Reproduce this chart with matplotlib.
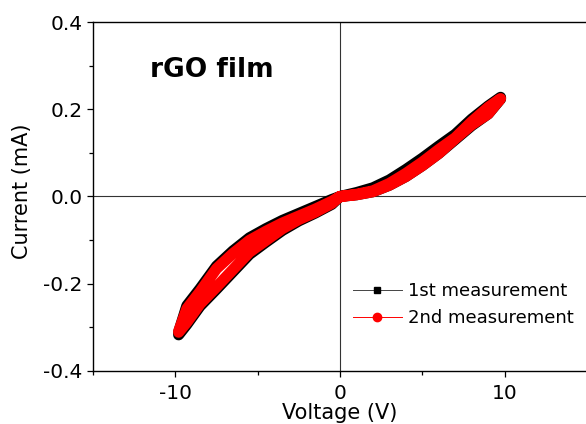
import matplotlib
matplotlib.use("Agg")
import matplotlib.pyplot as plt
from matplotlib.lines import Line2D

plt.rcParams['font.family'] = ['DejaVu Sans']

# ---- data ----
v_pos = [0, 1, 2, 3, 4, 5, 6, 7, 8, 9, 9.75]
v_neg = [0, -0.5, -1.5, -2.5, -3.5, -4.5, -5.5, -6.5, -7.5, -8.5, -9.3, -9.8]

# 1st measurement (black)
m1_pos_up = [0, 0.009, 0.020, 0.038, 0.062, 0.088, 0.116, 0.143, 0.178, 0.208, 0.228]
m1_pos_down = [0, 0.004, 0.011, 0.026, 0.046, 0.071, 0.099, 0.131, 0.163, 0.190, 0.224]
m1_neg_upper = [0, -0.007, -0.023, -0.039, -0.055, -0.074, -0.095, -0.125, -0.160, -0.212, -0.251, -0.312]
m1_neg_lower = [0, -0.018, -0.038, -0.056, -0.078, -0.105, -0.133, -0.173, -0.213, -0.252, -0.294, -0.318]

# 2nd measurement (red)
m2_pos_up = [0, 0.005, 0.013, 0.030, 0.053, 0.079, 0.108, 0.135, 0.172, 0.205, 0.225]
m2_pos_down = [0, 0.004, 0.011, 0.026, 0.046, 0.071, 0.099, 0.133, 0.165, 0.190, 0.225]
m2_neg_upper = [0, -0.011, -0.029, -0.045, -0.061, -0.080, -0.101, -0.131, -0.166, -0.219, -0.258, -0.310]
m2_neg_lower = [0, -0.016, -0.036, -0.053, -0.074, -0.101, -0.128, -0.168, -0.208, -0.247, -0.289, -0.312]

labels = ["1st measurement", "2nd measurement"]
x_ticks = [-10, 0, 10]
y_ticks = [-0.4, -0.2, 0.0, 0.2, 0.4]


def sweep(pos_up, pos_down, neg_upper, neg_lower):
    v = list(v_pos) + list(v_pos[::-1]) + list(v_neg) + list(v_neg[::-1])
    i = list(pos_up) + list(pos_down[::-1]) + list(neg_upper) + list(neg_lower[::-1])
    return v, i


fig = plt.figure(figsize=(5.86, 4.24), dpi=100)
W, H = 586, 424
left, right, top, bottom = 93, 587, 22.5, 370.5
ax = fig.add_axes([left / W, (H - bottom) / H, (right - left) / W, (bottom - top) / H])

ax.axhline(0, color='#333333', lw=0.8, zorder=1)
ax.axvline(0, color='#333333', lw=0.8, zorder=1)

v1, i1 = sweep(m1_pos_up, m1_pos_down, m1_neg_upper, m1_neg_lower)
v2, i2 = sweep(m2_pos_up, m2_pos_down, m2_neg_upper, m2_neg_lower)

band = 8.0
ax.plot(v1, i1, color='black', lw=band, solid_capstyle='round', solid_joinstyle='round', zorder=2)
ax.plot(v2, i2, color='#ff0000', lw=band, solid_capstyle='round', solid_joinstyle='round', zorder=3)

ax.set_xlim(-15, 15)
ax.set_ylim(-0.4, 0.4)
ax.set_xticks(x_ticks)
ax.set_xticklabels([str(t) for t in x_ticks])
ax.set_xticks([-15, -5, 5, 15], minor=True)
ax.set_yticks(y_ticks)
ax.set_yticklabels(["%.1f" % t for t in y_ticks])
ax.set_yticks([-0.3, -0.1, 0.1, 0.3], minor=True)

ax.tick_params(which='both', direction='out', top=False, right=False, width=0.9, labelsize=14.5)
ax.tick_params(axis='x', which='major', length=4.5, pad=5.0)
ax.tick_params(axis='x', which='minor', length=3.0)
ax.tick_params(axis='y', which='major', length=4.5, pad=3.0)
ax.tick_params(axis='y', which='minor', length=3.0)
for s in ax.spines.values():
    s.set_linewidth(1.0)

ax.set_xlabel("Voltage (V)", fontsize=15)
ax.xaxis.set_label_coords((340 - left) / (right - left), (bottom - 403) / (bottom - top))
ax.xaxis.label.set_va('top')
ax.set_ylabel("Current (mA)", fontsize=15)
ax.yaxis.label.set_va('center')
ax.yaxis.label.set_ha('center')
ax.yaxis.set_label_coords(22.5 / W, (H - 191) / H, transform=fig.transFigure)

ax.text((150 - left) / (right - left), (bottom - 77) / (bottom - top), "rGO film",
        transform=ax.transAxes, fontsize=19, fontweight='bold', ha='left', va='baseline')

handles = [
    Line2D([0], [0], color='#444444', lw=0.7, marker='s', ms=5, markerfacecolor='black', markeredgecolor='black'),
    Line2D([0], [0], color='#ff0000', lw=0.7, marker='o', ms=6, markerfacecolor='#ff0000', markeredgecolor='#ff0000'),
]
ax.legend(handles, labels, loc='upper left',
          bbox_to_anchor=((353 - left) / (right - left), (bottom - 282) / (bottom - top)),
          frameon=False, fontsize=13, handlelength=2.7, handletextpad=0.33,
          labelspacing=0.52, borderpad=0, borderaxespad=0)

fig.savefig("out.png", dpi=100)
